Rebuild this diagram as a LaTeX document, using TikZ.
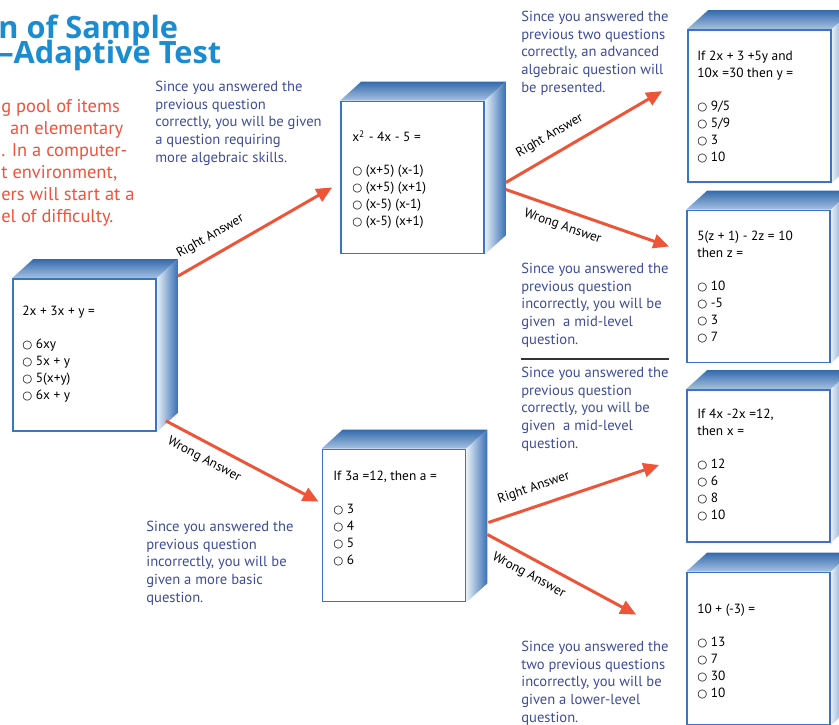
\documentclass[tikz,border=0pt]{standalone}
\usepackage{fontspec}
\setmainfont{PT Sans}
\newfontfamily\symfont{DejaVu Sans}
\newfontfamily\titlefont{Open Sans}
\usetikzlibrary{arrows.meta,calc,backgrounds}
\definecolor{titleblue}{RGB}{28,140,208}
\definecolor{introred}{RGB}{240,82,58}
\definecolor{notenavy}{RGB}{62,76,154}
\definecolor{arrowred}{RGB}{240,84,56}
\definecolor{boxblue}{RGB}{58,118,190}
\newcommand{\ring}{{\fontsize{6.5}{6.5}\symfont\char"25CB}\ }
\begin{document}
\begin{tikzpicture}[x=0.02cm,y=-0.02cm,
  qbox/.style={draw=boxblue,line width=1pt,fill=white,minimum width=2.86cm,minimum height=3.04cm,inner sep=0pt},
  qtext/.style={anchor=north west,align=left,inner sep=0pt,font=\fontsize{7.6}{9.7}\selectfont},
  note/.style={anchor=north west,align=left,inner sep=0pt,text=notenavy,font=\fontsize{8.3}{10}\selectfont},
  answer/.style={draw=arrowred,line width=1.7pt,-{Triangle[length=9pt,width=8pt]}},
  lbl/.style={font=\fontsize{7.5}{8}\selectfont,sloped,inner sep=1pt},
  title/.style={anchor=base west,inner sep=0pt,text=titleblue,font=\titlefont\fontsize{17.5}{17.5}\selectfont\bfseries},
  topface/.style={top color=boxblue!90!black,bottom color=boxblue!45},
  sideface/.style={left color=boxblue!12,right color=boxblue!95!black}]
\useasboundingbox (0,0) rectangle (839,724);
\node[title] (title1) at (-2,38) {n of Sample};
\node[title] (title2) at (-2,63) {–Adaptive Test};
\node[anchor=north west,align=left,inner sep=0pt,text=introred,font=\fontsize{10.5}{12.5}\selectfont] (intro) at (1,99) {g pool of items\\\hspace*{5pt}an elementary\\. In a computer-\\t environment,\\ers will start at a\\el of difficulty.};
\node[qbox] (q1) at (84.5,355) {};
\node[qbox] (q2) at (412.5,177.5) {};
\node[qbox] (q3) at (759.5,106) {};
\node[qbox] (q4) at (758.5,286.5) {};
\node[qbox] (q5) at (758.5,466) {};
\node[qbox] (q6) at (758.5,648.5) {};
\node[qbox] (q7) at (394,525.5) {};
\begin{scope}[on background layer]
\foreach \b in {q1,q2,q3,q4,q5,q6,q7}{
  \shade[topface] (\b.north west) -- ++(21,-19) -- ($(\b.north east)+(21,-19)$) -- (\b.north east) -- cycle;
  \shade[sideface] (\b.north east) -- ++(21,-19) -- ($(\b.south east)+(21,-19)$) -- (\b.south east) -- cycle;
}
\end{scope}
\node[qtext] (q1txt) at (22,306) {2x + 3x + y =\\[9pt]\ring 6xy\\\ring 5x + y\\\ring 5(x+y)\\\ring 6x + y};
\node[qtext] (q2txt) at (352,130) {x\textsuperscript{2} - 4x - 5 =\\[9pt]\ring (x+5) (x-1)\\\ring (x+5) (x+1)\\\ring (x-5) (x-1)\\\ring (x-5) (x+1)};
\node[qtext] (q3txt) at (697,51) {If 2x + 3 +5y and\\10x =30 then y =\\[9pt]\ring 9/5\\\ring 5/9\\\ring 3\\\ring 10};
\node[qtext] (q4txt) at (697,231) {5(z + 1) - 2z = 10\\then z =\\[9pt]\ring 10\\\ring -5\\\ring 3\\\ring 7};
\node[qtext] (q5txt) at (697,409) {If 4x -2x =12,\\then x =\\[9pt]\ring 12\\\ring 6\\\ring 8\\\ring 10};
\node[qtext] (q6txt) at (697,604) {10 + (-3) =\\[9pt]\ring 13\\\ring 7\\\ring 30\\\ring 10};
\node[qtext] (q7txt) at (333,471) {If 3a =12, then a =\\[9pt]\ring 3\\\ring 4\\\ring 5\\\ring 6};
\node[note] (n1) at (155,81) {Since you answered the\\previous question\\correctly, you will be given\\a question requiring\\more algebraic skills.};
\node[note] (n2) at (521,11) {Since you answered the\\previous two questions\\correctly, an advanced\\algebraic question will\\be presented.};
\node[note] (n3) at (521,263) {Since you answered the\\previous question\\incorrectly, you will be\\given\ \ a mid-level\\question.};
\node[note] (n4) at (521,367) {Since you answered the\\previous question\\correctly, you will be\\given\ \ a mid-level\\question.};
\node[note] (n5) at (146,521) {Since you answered the\\previous question\\incorrectly, you will be\\given a more basic\\question.};
\node[note] (n6) at (521,641) {Since you answered the\\two previous questions\\incorrectly, you will be\\given a lower-level\\question.};
\draw[black!80,line width=1.1pt] ($(n3.south west)+(0,12)$) -- ($(n3.south west)+(148,12)$);
\coordinate (a1) at ($(q1.north east)+(21,-2)$);
\coordinate (a2) at ($(q1.south east)+(9,-11)$);
\coordinate (a3) at ($(q2.east)+(21,5)$);
\coordinate (a4) at ($(q2.east)+(21,12)$);
\coordinate (a5) at ($(q7.east)+(22,-3)$);
\coordinate (a6) at ($(q7.east)+(21,9)$);
\draw[answer] (a1) -- node[lbl,above=5pt,pos=0.27] (r1) {Right Answer} ($(q2.west)+(-8,10)$);
\draw[answer] (a2) -- node[lbl,below=4pt,pos=0.3] (w1) {Wrong Answer} ($(q7.north west)+(-3,53)$);
\draw[answer] (a3) -- node[lbl,above=5pt,pos=0.34] (r2) {Right Answer} ($(q3.north west)+(-25,62)$);
\draw[answer] (a4) -- node[lbl,below=4pt,pos=0.38] (w2) {Wrong Answer} ($(q4.west)+(-17,-40)$);
\draw[answer] (a5) -- node[lbl,above=5pt,pos=0.3] (r3) {Right Answer} ($(q5.west)+(-27,-1)$);
\draw[answer] (a6) -- node[lbl,below=4pt,pos=0.33] (w3) {Wrong Answer} ($(q6.north west)+(-50,43)$);
\end{tikzpicture}
\end{document}
